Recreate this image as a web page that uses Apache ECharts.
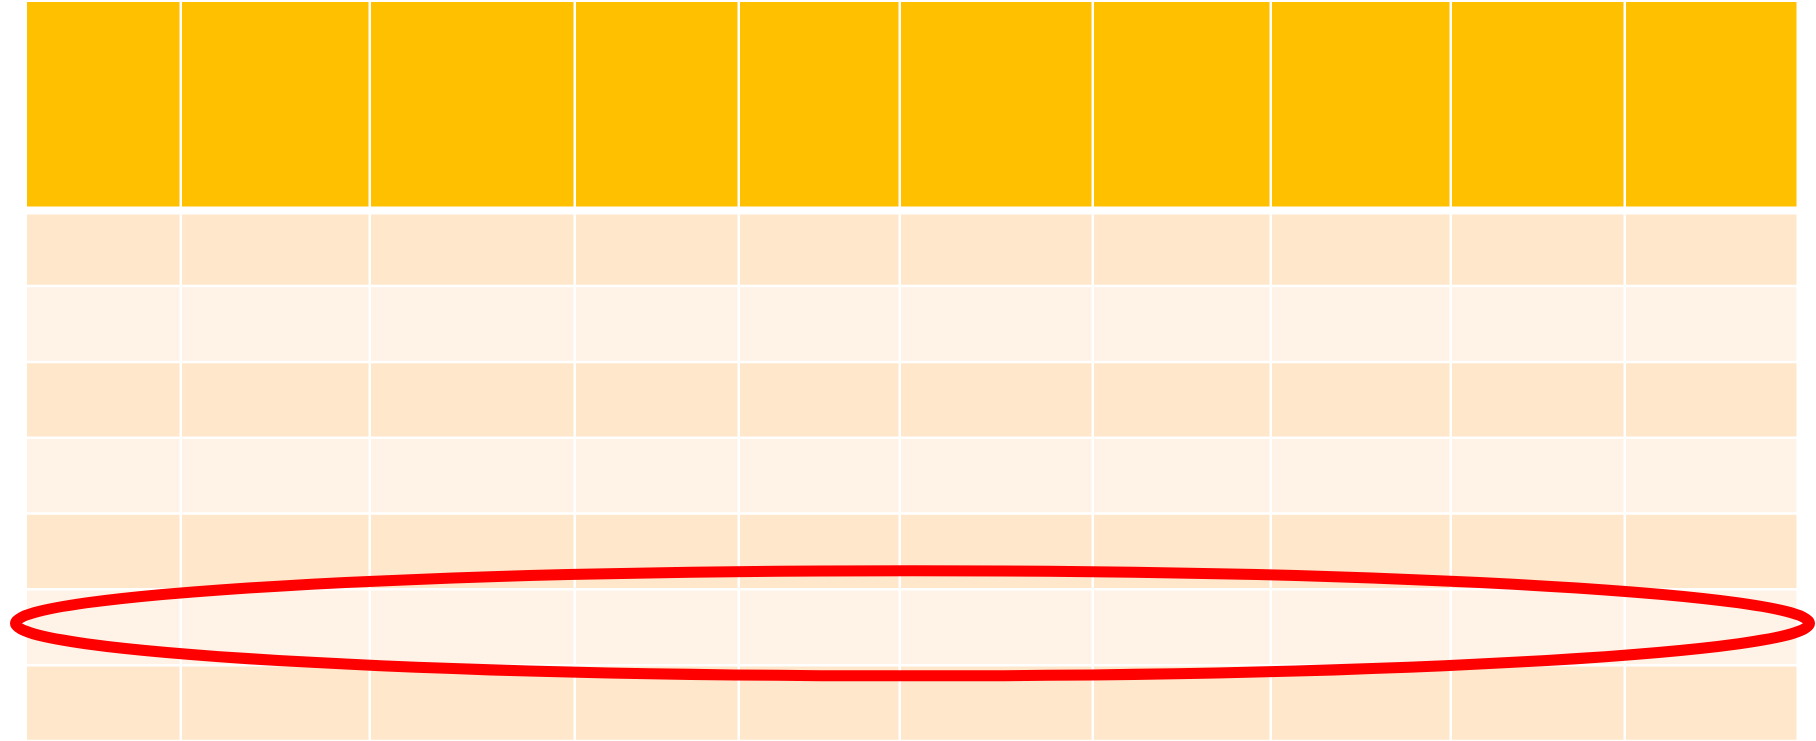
<!DOCTYPE html>
<html>
<head>
<meta charset="utf-8">
<script src="https://cdn.jsdelivr.net/npm/echarts@6/dist/echarts.min.js"></script>
<style>
  html, body { margin: 0; padding: 0; background: #ffffff; }
  #chart { width: 1816px; height: 741px; }
</style>
</head>
<body>
<div id="chart"></div>
<script>
// table layout (pixel units)
const colWidths = [155, 189, 205, 164, 161, 193, 178, 180, 174, 173]
const headerHeight = 207.5
const headerGap = 5.5
const bodyRowHeights = [73, 76, 76, 76, 76, 76, 76]
// body row circled in red (0-based)
const highlightRows = [5]

const GAP = 1.25
const colors = {
  header: '#FFC000',
  bandDark: '#FEE7CA',
  bandLight: '#FEF3E6',
  ring: '#FF0000'
}

const totalWidth = colWidths.reduce((a, b) => a + b, 0)
const totalHeight = headerHeight + headerGap + bodyRowHeights.reduce((a, b) => a + b, 0)

function rowEdges() {
  const edges = [[0, headerHeight]]
  let y = headerHeight + headerGap
  bodyRowHeights.forEach((h) => {
    edges.push([y, y + h])
    y += h
  })
  return edges
}

function buildCells() {
  const cells = []
  rowEdges().forEach((edge, r) => {
    let x = 0
    colWidths.forEach((w) => {
      cells.push([x, x + w, edge[0], edge[1], r])
      x += w
    })
  })
  return cells
}

function cellColor(r) {
  if (r === 0) return colors.header
  return r % 2 === 1 ? colors.bandDark : colors.bandLight
}

const chart = echarts.init(document.getElementById('chart'))

chart.setOption({
  animation: false,
  grid: { left: 25.75, top: 0.75, width: totalWidth, height: totalHeight },
  xAxis: { type: 'value', min: 0, max: totalWidth, show: false },
  yAxis: { type: 'value', min: 0, max: totalHeight, inverse: true, show: false },
  series: [
    {
      type: 'custom',
      data: buildCells(),
      encode: { x: [0, 1], y: [2, 3] },
      renderItem(params, api) {
        const p0 = api.coord([api.value(0), api.value(2)])
        const p1 = api.coord([api.value(1), api.value(3)])
        return {
          type: 'rect',
          shape: {
            x: p0[0] + GAP,
            y: p0[1] + GAP,
            width: p1[0] - p0[0] - 2 * GAP,
            height: p1[1] - p0[1] - 2 * GAP
          },
          style: { fill: cellColor(api.value(4)) }
        }
      }
    },
    {
      type: 'custom',
      z: 5,
      data: highlightRows.map((r) => [r]),
      renderItem(params, api) {
        const edge = rowEdges()[api.value(0) + 1]
        const left = api.coord([0, edge[0]])
        const right = api.coord([totalWidth, edge[1]])
        return {
          type: 'ellipse',
          shape: {
            cx: (left[0] + right[0]) / 2 + 0.75,
            cy: (left[1] + right[1]) / 2 - 4,
            rx: (right[0] - left[0]) / 2 + 11,
            ry: 52.5
          },
          style: { fill: 'transparent', stroke: colors.ring, lineWidth: 11 }
        }
      }
    }
  ]
})

window.addEventListener('resize', () => chart.resize())
</script>
</body>
</html>
